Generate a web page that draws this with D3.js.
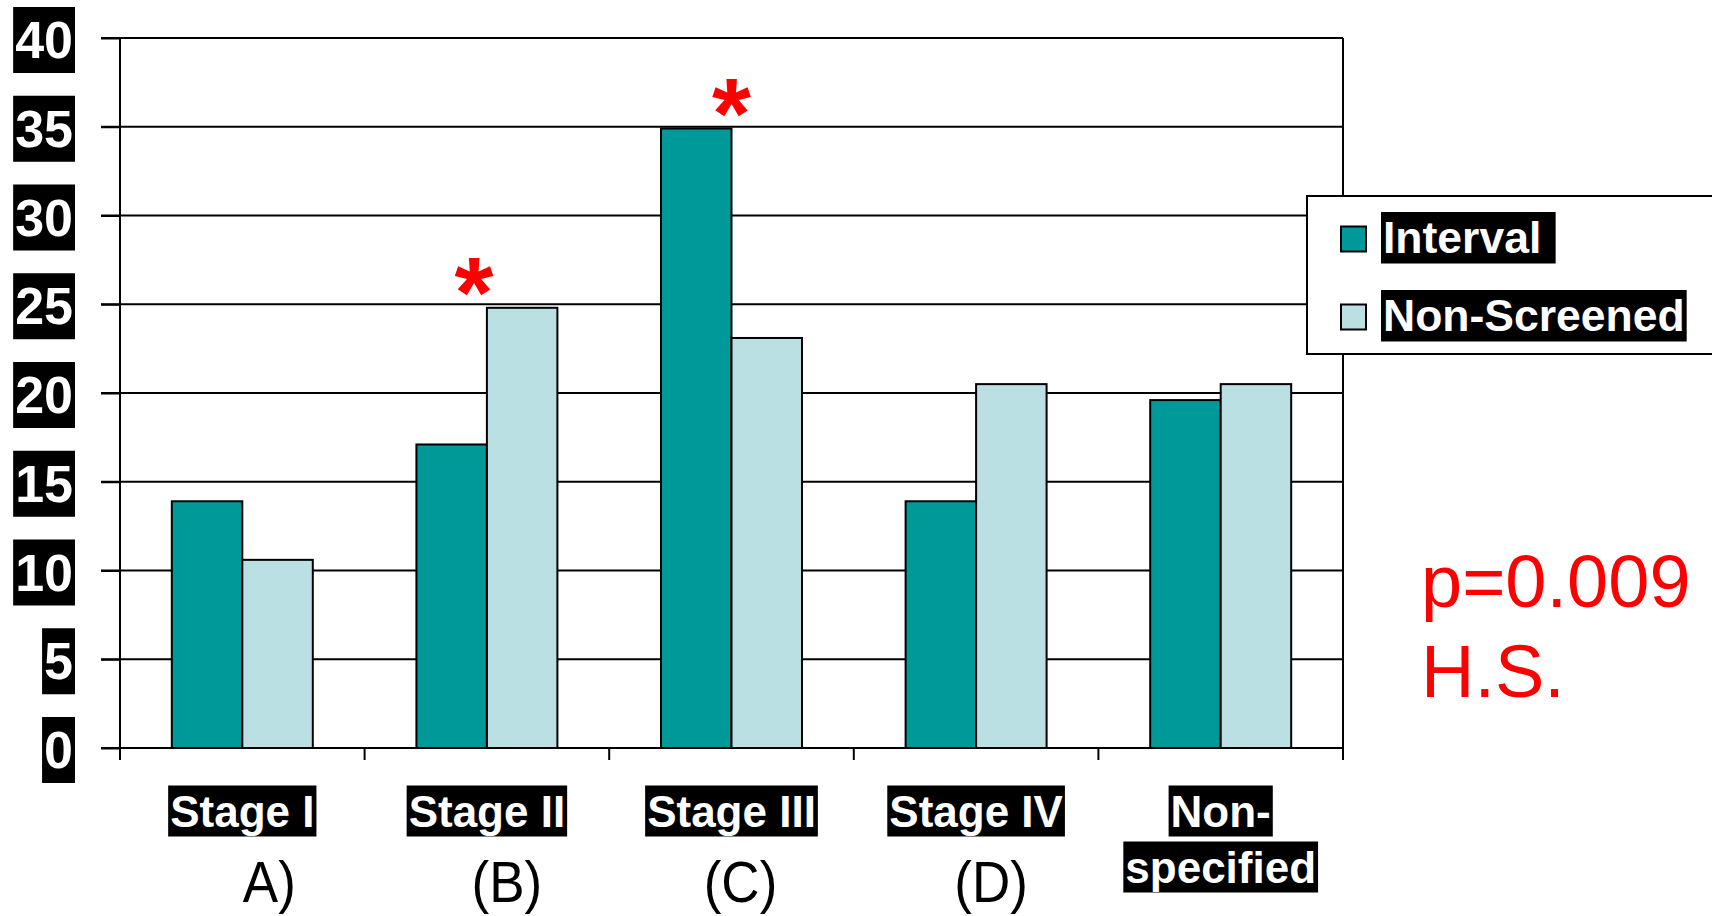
<!DOCTYPE html>
<html>
<head>
<meta charset="utf-8">
<script src="https://cdn.jsdelivr.net/npm/d3@7"></script>
<style>
  html, body { margin: 0; padding: 0; background: #fff; }
  svg { display: block; }
  text { font-family: "Liberation Sans", Arial, sans-serif; }
</style>
</head>
<body>
<svg id="chart" width="1712" height="916"></svg>
<script>
// Tumour stage distribution: interval cancers vs non-screened cancers (%)
const categories = ["Stage I", "Stage II", "Stage III", "Stage IV", "Non-specified"];
const categoryLines = [["Stage I"], ["Stage II"], ["Stage III"], ["Stage IV"], ["Non-", "specified"]];
const groupLetters = ["A)", "(B)", "(C)", "(D)", ""];
const seriesNames = ["Interval", "Non-Screened"];
const intervalValues = [13.9, 17.1, 34.9, 13.9, 19.6];
const nonScreenedValues = [10.6, 24.8, 23.1, 20.5, 20.5];
const significant = [false, true, true, false, false];
const yTickValues = [0, 5, 10, 15, 20, 25, 30, 35, 40];
const pValueLines = ["p=0.009", "H.S."];

const colors = { "Interval": "#009999", "Non-Screened": "#bbe0e3" };

const svg = d3.select("#chart");

// plot frame
const plotLeft = 120, plotRight = 1343, plotTop = 38, plotBottom = 748;
const tickOut = 19, xTickLen = 12;

const x0 = d3.scaleBand().domain(categories).range([plotLeft, plotRight]).padding(0);
const x1 = d3.scaleBand().domain(seriesNames).range([0, x0.bandwidth()])
  .paddingInner(0).paddingOuter(0.735);
const y = d3.scaleLinear().domain([0, 40]).range([plotBottom, plotTop]);

const rows = categories.map((c, i) => ({
  cat: c, i,
  values: [
    { key: "Interval", value: intervalValues[i] },
    { key: "Non-Screened", value: nonScreenedValues[i] }
  ]
}));

// horizontal gridlines (including the top frame line)
svg.append("g").selectAll("line").data(yTickValues).join("line")
  .attr("x1", plotLeft - tickOut).attr("x2", plotRight)
  .attr("y1", d => y(d)).attr("y2", d => y(d))
  .attr("stroke", "#000").attr("stroke-width", 2);

// left axis ticks via d3 axis
const yAxis = svg.append("g").attr("transform", `translate(${plotLeft},0)`)
  .call(d3.axisLeft(y).tickValues(yTickValues).tickSizeInner(tickOut).tickSizeOuter(0).tickFormat(""));
yAxis.select(".domain").remove();
yAxis.selectAll(".tick line").attr("stroke", "#000").attr("stroke-width", 2);

// vertical frame lines and category boundary ticks
const boundaries = categories.map(c => x0(c)).concat([plotRight]);
svg.append("line").attr("x1", plotLeft).attr("x2", plotLeft).attr("y1", plotTop).attr("y2", plotBottom + xTickLen)
  .attr("stroke", "#000").attr("stroke-width", 2);
svg.append("line").attr("x1", plotRight).attr("x2", plotRight).attr("y1", plotTop).attr("y2", plotBottom + xTickLen)
  .attr("stroke", "#000").attr("stroke-width", 2);
svg.append("g").selectAll("line").data(boundaries).join("line")
  .attr("x1", d => d).attr("x2", d => d)
  .attr("y1", plotBottom).attr("y2", plotBottom + xTickLen)
  .attr("stroke", "#000").attr("stroke-width", 2);

// bars
const groups = svg.append("g").selectAll("g").data(rows).join("g")
  .attr("transform", d => `translate(${x0(d.cat)},0)`);
groups.selectAll("rect").data(d => d.values).join("rect")
  .attr("x", d => x1(d.key))
  .attr("y", d => y(d.value))
  .attr("width", x1.bandwidth())
  .attr("height", d => y(0) - y(d.value))
  .attr("fill", d => colors[d.key])
  .attr("stroke", "#000").attr("stroke-width", 2);

// x baseline drawn over the bars
svg.append("line").attr("x1", plotLeft - tickOut).attr("x2", plotRight).attr("y1", plotBottom).attr("y2", plotBottom)
  .attr("stroke", "#000").attr("stroke-width", 2);

// significance asterisks
const starDx = [0, -13, 0, 0, 0];
svg.append("g").selectAll("text").data(rows.filter(r => significant[r.i])).join("text")
  .attr("x", d => x0(d.cat) + x0.bandwidth() / 2 + starDx[d.i])
  .attr("y", d => y(d3.max(d.values, v => v.value)) + 19)
  .attr("text-anchor", "middle")
  .attr("font-size", 100).attr("font-weight", "bold")
  .attr("fill", "#ff0000")
  .text("*");

// helper: white bold text on a black highlight box
function boxedText(g, x, baseline, txt, size, anchor, padTop, padBottom) {
  const t = g.append("text")
    .attr("x", x).attr("y", baseline)
    .attr("text-anchor", anchor)
    .attr("font-size", size).attr("font-weight", "bold")
    .attr("fill", "#fff")
    .text(txt);
  const w = t.node().getComputedTextLength();
  const bx = anchor === "end" ? x - w : anchor === "middle" ? x - w / 2 : x;
  g.insert("rect", () => t.node())
    .attr("x", bx - 2).attr("y", baseline - padTop)
    .attr("width", w + 4).attr("height", padTop + padBottom)
    .attr("fill", "#000");
  return t;
}

// y tick labels
const yLab = svg.append("g");
yTickValues.forEach(v => {
  const g = yLab.append("g");
  boxedText(g, 73, y(v) + 20, String(v), 52, "end", 51, 15);
});

// category labels
const catLab = svg.append("g");
rows.forEach(r => {
  const cx = x0(r.cat) + x0.bandwidth() / 2;
  categoryLines[r.i].forEach((line, k) => {
    const g = catLab.append("g");
    boxedText(g, cx, 827 + k * 56, line, 44, "middle", 41.5, 9.5);
  });
});

// group letters below the category labels
const letterDx = [27, 20, 9, 15, 0];
svg.append("g").selectAll("text").data(rows.filter(r => groupLetters[r.i])).join("text")
  .attr("transform", d => `translate(${x0(d.cat) + x0.bandwidth() / 2 + letterDx[d.i]},902) scale(1,1.08)`)
  .attr("text-anchor", "middle")
  .attr("font-size", 53)
  .attr("fill", "#000")
  .text(d => groupLetters[d.i]);

// legend
const legend = svg.append("g").attr("transform", "translate(1307,196)");
legend.append("rect").attr("x", 0).attr("y", 0).attr("width", 500).attr("height", 158)
  .attr("fill", "#fff").attr("stroke", "#000").attr("stroke-width", 2);
seriesNames.forEach((s, k) => {
  const cy = 43 + k * 78;
  legend.append("rect").attr("x", 34).attr("y", cy - 12.5).attr("width", 25).attr("height", 25)
    .attr("fill", colors[s]).attr("stroke", "#000").attr("stroke-width", 2);
  const g = legend.append("g");
  boxedText(g, 76, cy + 14, k === 0 ? s + "\u00a0" : s, 44.5, "start", 41, 10.5);
});

// p-value annotation
svg.append("g").selectAll("text").data(pValueLines).join("text")
  .attr("x", plotRight + 78)
  .attr("y", (d, i) => 607 + i * 90)
  .attr("font-size", 74)
  .attr("fill", "#ff0000")
  .text(d => d);
</script>
</body>
</html>
